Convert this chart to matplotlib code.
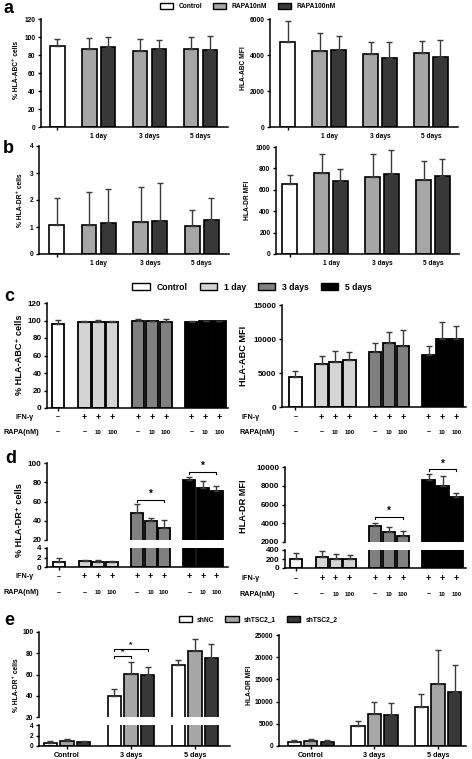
import matplotlib
matplotlib.use('Agg')
import matplotlib.pyplot as plt
import numpy as np

plt.rcParams['font.family'] = ['Liberation Sans', 'DejaVu Sans']
plt.rcParams['font.weight'] = 'bold'
plt.rcParams['axes.linewidth'] = 1.1

# ---------------- DATA ----------------
# Panel a / b : Control + RAPA10nM / RAPA100nM at 1, 3, 5 days
ab_groups = ['1 day', '3 days', '5 days']
ab_series = ['Control', 'RAPA10nM', 'RAPA100nM']

a_pct_ctrl = 90.5
a_pct_ctrl_err = 7.3
a_pct_r10 = [86.8, 84.9, 86.8]
a_pct_r10_err = [11.8, 12.9, 13.6]
a_pct_r100 = [88.6, 86.8, 85.3]
a_pct_r100_err = [11.1, 9.6, 15.5]

a_mfi_ctrl = 4700
a_mfi_ctrl_err = 1200
a_mfi_r10 = [4220, 4030, 4090]
a_mfi_r10_err = [1020, 690, 710]
a_mfi_r100 = [4270, 3850, 3900]
a_mfi_r100_err = [780, 890, 930]

b_pct_ctrl = 1.08
b_pct_ctrl_err = 1.01
b_pct_r10 = [1.08, 1.18, 1.04]
b_pct_r10_err = [1.21, 1.31, 0.59]
b_pct_r100 = [1.13, 1.23, 1.26]
b_pct_r100_err = [1.26, 1.41, 0.81]

b_mfi_ctrl = 656
b_mfi_ctrl_err = 78
b_mfi_r10 = [756, 722, 688]
b_mfi_r10_err = [178, 212, 178]
b_mfi_r100 = [678, 750, 731]
b_mfi_r100_err = [119, 219, 160]

# Panel c / d : Control + 1/3/5 days with IFN-γ +/- RAPA (-, 10, 100 nM)
cd_series = ['Control', '1 day', '3 days', '5 days']
cd_rapa = ['–', '10', '100']

c_pct_ctrl = 95.9
c_pct_ctrl_err = 4.6
c_pct = [[98.2, 97.8, 98.5], [98.9, 99.3, 98.2], [98.2, 98.9, 98.9]]
c_pct_err = [[1.8, 3.0, 1.2], [2.3, 0.4, 3.4], [1.8, 0.4, 0.4]]

c_mfi_ctrl = 4350
c_mfi_ctrl_err = 930
c_mfi = [[6350, 6650, 6940], [8160, 9380, 9040], [7670, 9970, 10020]]
c_mfi_err = [[1220, 1610, 1220], [1270, 1710, 2300], [1320, 2590, 1950]]

d_pct_ctrl = 1.0
d_pct_ctrl_err = 0.87
d_pct = [[1.27, 1.13, 1.07], [48.3, 40.0, 32.8], [82.0, 74.5, 71.0]]
d_pct_err = [[0.13, 0.34, 0.13], [8.9, 3.1, 7.9], [3.5, 6.9, 5.2]]
d_pct_sig = [62, 90.7]          # bracket heights for 3 days and 5 days

d_mfi_ctrl = 196
d_mfi_ctrl_err = 131
d_mfi = [[255, 211, 204], [3730, 3020, 2670], [8590, 7990, 6830]]
d_mfi_err = [[130, 102, 80], [350, 530, 490], [705, 1020, 350]]
d_mfi_sig = [4714, 9763]

# Panel e : shNC / shTSC2_1 / shTSC2_2
e_groups = ['Control', '3 days', '5 days']
e_series = ['shNC', 'shTSC2_1', 'shTSC2_2']
e_pct = [[0.6, 39.3, 68.8], [0.97, 60.8, 81.7], [0.79, 59.6, 75.6]]
e_pct_err = [[0.3, 7.0, 4.9], [0.42, 11.0, 11.3], [0.11, 7.9, 12.8]]
e_pct_sig = [77.7, 83.8]        # shNC vs shTSC2_1, shNC vs shTSC2_2 (3 days)
e_mfi = [[900, 4590, 8810], [1050, 7230, 14000], [980, 7080, 12050]]
e_mfi_err = [[380, 1060, 2790], [450, 2640, 7600], [380, 2640, 6180]]

# ---------------- STYLE ----------------
ab_colors = ['white', '#a6a6a6', '#383838']
cd_colors = ['white', '#d4d4d4', '#808080', '#000000']
e_colors = ['white', '#a6a6a6', '#383838']
ECOL = '#3a3a3a'

W, H = 472, 759
fig = plt.figure(figsize=(W / 100, H / 100), dpi=100)


def px_axes(x0, y0, x1, y1):
    return fig.add_axes([x0 / W, 1 - y1 / H, (x1 - x0) / W, (y1 - y0) / H])


def style(ax, fs, bottom=True):
    for s in ['top', 'right']:
        ax.spines[s].set_visible(False)
    if not bottom:
        ax.spines['bottom'].set_visible(False)
    ax.tick_params(axis='y', labelsize=fs, length=2.5, width=1, pad=1.5)
    ax.tick_params(axis='x', labelsize=fs, length=2.5, width=1, pad=2)
    for lab in ax.get_yticklabels() + ax.get_xticklabels():
        lab.set_fontweight('bold')


def bars(ax, xs, vals, errs, color, width, lw=1.2):
    ax.bar(xs, vals, width, color=color, edgecolor='black', linewidth=lw, zorder=2)
    errs = np.atleast_1d(errs)
    ax.errorbar(xs, vals, yerr=[np.zeros(len(errs)), errs], fmt='none', ecolor=ECOL,
                elinewidth=1.0, capsize=2.2, capthick=1.0, zorder=3)


def ylab(x, y, text, fs):
    fig.text(x / W, 1 - y / H, text, rotation=90, ha='center', va='center',
             fontsize=fs, fontweight='bold')


def bracket(ax, x0, x1, y, h, fs):
    ax.plot([x0, x0, x1, x1], [y - h, y, y, y - h], color='black', lw=0.8,
            clip_on=False, zorder=4)
    ax.text((x0 + x1) / 2, y + h * 0.4, '*', ha='center', va='bottom', fontsize=fs,
            fontweight='bold', clip_on=False)


# ---------------- PANEL a / b ----------------
ab_ctrl_x = 0.19
ab_g = np.arange(1, 4)
ab_off = 0.185
ab_w = 0.29


def ab_panel(box, xlim, ylim, yticks, ctrl, ctrl_err, r10, r10_err, r100, r100_err):
    ax = px_axes(*box)
    bars(ax, [ab_ctrl_x], [ctrl], [ctrl_err], ab_colors[0], ab_w)
    bars(ax, ab_g - ab_off, r10, r10_err, ab_colors[1], ab_w)
    bars(ax, ab_g + ab_off, r100, r100_err, ab_colors[2], ab_w)
    ax.set_xlim(*xlim)
    ax.set_ylim(*ylim)
    ax.set_yticks(yticks)
    ax.set_xticks([ab_ctrl_x] + list(ab_g))
    ax.set_xticklabels([''] + ab_groups)
    style(ax, 4.8)
    ticks = ax.xaxis.get_major_ticks()
    for t in ticks[1:]:
        t.tick1line.set_visible(False)
    return ax


ab_panel((41, 19, 228, 127), (-0.13, 3.54), (0, 120), [0, 20, 40, 60, 80, 100, 120],
         a_pct_ctrl, a_pct_ctrl_err, a_pct_r10, a_pct_r10_err, a_pct_r100, a_pct_r100_err)
ylab(17, 70, '% HLA-ABC⁺ cells', 4.8)
ab_panel((270, 19, 458, 127), (-0.16, 3.53), (0, 6000), [0, 2000, 4000, 6000],
         a_mfi_ctrl, a_mfi_ctrl_err, a_mfi_r10, a_mfi_r10_err, a_mfi_r100, a_mfi_r100_err)
ylab(244, 68, 'HLA-ABC MFI', 4.8)
ab_panel((39, 146, 229, 254), (-0.155, 3.53), (0, 4), [0, 1, 2, 3, 4],
         b_pct_ctrl, b_pct_ctrl_err, b_pct_r10, b_pct_r10_err, b_pct_r100, b_pct_r100_err)
ylab(20, 200, '% HLA-DR⁺ cells', 4.8)
ab_panel((276, 147, 459, 254), (-0.08, 3.51), (0, 1000), [0, 200, 400, 600, 800, 1000],
         b_mfi_ctrl, b_mfi_ctrl_err, b_mfi_r10, b_mfi_r10_err, b_mfi_r100, b_mfi_r100_err)
ylab(247, 200, 'HLA-DR MFI', 4.8)

# legend a
handles = [plt.Rectangle((0, 0), 1, 1, facecolor=c, edgecolor='black', lw=1) for c in ab_colors]
fig.legend(handles, ab_series, loc='center', bbox_to_anchor=(248 / W, 1 - 6.5 / H), ncol=3,
           frameon=False, handlelength=2.0, handleheight=0.9,
           columnspacing=1.6, handletextpad=0.8, borderpad=0, prop={'weight': 'bold', 'size': 4.8})

# ---------------- PANEL c / d ----------------
cd_ctrl_x = 0.25
cd_g = np.arange(1, 4)
cd_off = np.array([-0.26, 0, 0.26])
cd_w = 0.23


def cd_draw(ax, ctrl, ctrl_err, vals, errs):
    bars(ax, [cd_ctrl_x], [ctrl], [ctrl_err], cd_colors[0], cd_w, lw=1.3)
    for gi in range(3):
        bars(ax, cd_g[gi] + cd_off, vals[gi], errs[gi], cd_colors[gi + 1], cd_w, lw=1.3)


def cd_rows(ax, y_ifn, y_rapa, fs):
    xs = [cd_ctrl_x] + [g + o for g in cd_g for o in cd_off]
    ifn = ['–'] + ['+'] * 9
    rapa = ['–'] + cd_rapa * 3
    for x, s1, s2 in zip(xs, ifn, rapa):
        ax.annotate(s1, (x, 1 - y_ifn / H), xycoords=('data', 'figure fraction'),
                    ha='center', va='center', fontsize=fs + 1.2 if s1 == '+' else fs,
                    fontweight='bold')
        ax.annotate(s2, (x, 1 - y_rapa / H), xycoords=('data', 'figure fraction'),
                    ha='center', va='center', fontsize=fs - 0.8 if s2 != '–' else fs,
                    fontweight='bold')


def cd_xaxis(ax, xlim):
    ax.set_xlim(*xlim)
    ax.set_xticks([cd_ctrl_x])
    ax.set_xticklabels([''])


def row_labels(x, y_ifn, y_rapa, fs):
    fig.text(x[0] / W, 1 - y_ifn / H, 'IFN-γ', ha='left', va='center', fontsize=fs,
             fontweight='bold')
    fig.text(x[1] / W, 1 - y_rapa / H, 'RAPA(nM)', ha='left', va='center', fontsize=fs,
             fontweight='bold')


# c left
ax = px_axes(47, 303, 228, 408)
cd_draw(ax, c_pct_ctrl, c_pct_ctrl_err, c_pct, c_pct_err)
ax.set_ylim(0, 120)
ax.set_yticks([0, 20, 40, 60, 80, 100, 120])
cd_xaxis(ax, (0.04, 3.42))
style(ax, 5.8)
cd_rows(ax, 417, 432, 5.2)
row_labels((15, 3), 417, 432, 5.2)
ylab(20, 355, '% HLA-ABC⁺ cells', 6.6)

# c right
ax = px_axes(282, 305, 466, 407)
cd_draw(ax, c_mfi_ctrl, c_mfi_ctrl_err, c_mfi, c_mfi_err)
ax.set_ylim(0, 15000)
ax.set_yticks([0, 5000, 10000, 15000])
cd_xaxis(ax, (0.0, 3.44))
style(ax, 5.8)
cd_rows(ax, 417, 432, 5.2)
row_labels((241, 239), 417, 432, 5.2)
ylab(244, 356, 'HLA-ABC MFI', 6.6)

# legend c
handles = [plt.Rectangle((0, 0), 1, 1, facecolor=c, edgecolor='black', lw=1) for c in cd_colors]
fig.legend(handles, cd_series, loc='center', bbox_to_anchor=(252 / W, 1 - 287 / H), ncol=4,
           frameon=False, handlelength=2.0, handleheight=0.9,
           columnspacing=1.4, handletextpad=0.8, borderpad=0, prop={'weight': 'bold', 'size': 6.2})


def broken(box_up, box_lo, xlim, ylim_up, ylim_lo, yt_up, yt_lo, ctrl, ctrl_err, vals, errs,
           fs):
    axu = px_axes(*box_up)
    axl = px_axes(*box_lo)
    for a in (axu, axl):
        cd_draw(a, ctrl, ctrl_err, vals, errs)
        a.set_xlim(*xlim)
    axu.set_ylim(*ylim_up)
    axl.set_ylim(*ylim_lo)
    axu.set_yticks(yt_up)
    axl.set_yticks(yt_lo)
    axu.set_xticks([])
    axl.set_xticks([cd_ctrl_x])
    axl.set_xticklabels([''])
    style(axu, fs, bottom=False)
    style(axl, fs)
    return axu, axl


# d left
axu, axl = broken((47, 463, 228, 540), (47, 548, 228, 567), (0.02, 3.48), (20, 100), (0, 4),
                  [20, 40, 60, 80, 100], [0, 2, 4], d_pct_ctrl, d_pct_ctrl_err, d_pct, d_pct_err,
                  5.8)
for gi, yb in enumerate(d_pct_sig):
    bracket(axu, cd_g[gi + 1] + cd_off[0], cd_g[gi + 1] + cd_off[2], yb, 2.2, 7)
cd_rows(axl, 577, 593, 5.2)
row_labels((15, 3), 577, 593, 5.2)
ylab(20, 520, '% HLA-DR⁺ cells', 6.6)

# d right
axu, axl = broken((285, 467, 466, 542), (285, 550, 466, 568), (0.05, 3.44), (2000, 10000),
                  (0, 400), [2000, 4000, 6000, 8000, 10000], [0, 200, 400], d_mfi_ctrl,
                  d_mfi_ctrl_err, d_mfi, d_mfi_err, 5.8)
for gi, yb in enumerate(d_mfi_sig):
    bracket(axu, cd_g[gi + 1] + cd_off[0], cd_g[gi + 1] + cd_off[2], yb, 220, 7)
cd_rows(axl, 579, 594, 5.2)
row_labels((241, 239), 579, 594, 5.2)
ylab(244, 506, 'HLA-DR MFI', 6.6)

# ---------------- PANEL e ----------------
e_g = np.arange(3)
e_off = [-0.26, 0, 0.26]
e_w = 0.21


def e_draw(ax, vals, errs):
    for si in range(3):
        bars(ax, e_g + e_off[si], vals[si], errs[si], e_colors[si], e_w)


axu = px_axes(39, 632, 230, 717)
axl = px_axes(39, 725, 230, 746)
for a in (axu, axl):
    e_draw(a, e_pct, e_pct_err)
    a.set_xlim(-0.44, 2.55)
axu.set_ylim(20, 100)
axl.set_ylim(0, 4)
axu.set_yticks([20, 40, 60, 80, 100])
axl.set_yticks([0, 2, 4])
axu.set_xticks([])
axl.set_xticks(e_g)
axl.set_xticklabels(e_groups)
style(axu, 4.8, bottom=False)
style(axl, 4.8)
axl.tick_params(axis='x', labelsize=5.2)
bracket(axu, e_g[1] + e_off[0], e_g[1] + e_off[1], e_pct_sig[0], 1.8, 6)
bracket(axu, e_g[1] + e_off[0], e_g[1] + e_off[2], e_pct_sig[1], 1.8, 6)
ylab(17, 685, '% HLA-DR⁺ cells', 4.8)

ax = px_axes(279, 635, 466, 746)
e_draw(ax, e_mfi, e_mfi_err)
ax.set_xlim(-0.5, 2.44)
ax.set_ylim(0, 25000)
ax.set_yticks([0, 5000, 10000, 15000, 20000, 25000])
ax.set_xticks(e_g)
ax.set_xticklabels(e_groups)
style(ax, 4.8)
ax.tick_params(axis='x', labelsize=5.2)
ylab(249, 685, 'HLA-DR MFI', 4.8)

handles = [plt.Rectangle((0, 0), 1, 1, facecolor=c, edgecolor='black', lw=1) for c in e_colors]
fig.legend(handles, e_series, loc='center', bbox_to_anchor=(258 / W, 1 - 620 / H), ncol=3,
           frameon=False, handlelength=2.0, handleheight=0.9,
           columnspacing=1.6, handletextpad=0.8, borderpad=0, prop={'weight': 'bold', 'size': 4.8})

# panel letters
for letter, (lx, ly) in zip('abcde', [(3, 13), (3, 153), (4, 301), (5, 463), (4, 625)]):
    fig.text(lx / W, 1 - ly / H, letter, fontsize=13, fontweight='bold', ha='left',
             va='baseline')

fig.savefig('out.png', dpi=100)
